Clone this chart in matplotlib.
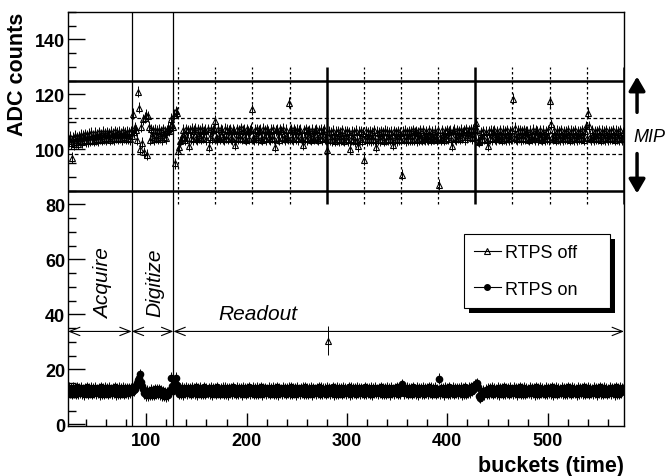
import numpy as np
import matplotlib.pyplot as plt
from matplotlib.lines import Line2D
from matplotlib.patches import Rectangle

plt.rcParams['font.family'] = ['Liberation Sans', 'DejaVu Sans']

# bucket number (time) of every readout sample
buckets = np.arange(23, 576)

# ADC counts with RTPS off (open triangles), one value per bucket
rtps_off = [
    103.0, 104.6, 102.2, 97.0, 104.3, 101.9, 105.0, 102.6, 104.4, 102.1,
    104.8, 103.2, 105.3, 102.7, 104.9, 103.5, 105.6, 103.0, 105.2, 102.9,
    105.7, 103.4, 106.1, 103.6, 104.9, 103.1, 106.0, 103.8, 105.4, 103.3,
    106.2, 103.9, 105.5, 103.5, 106.4, 104.0, 105.8, 103.7, 106.3, 104.2,
    105.9, 103.6, 106.5, 104.1, 105.7, 103.8, 106.6, 104.3, 106.0, 103.9,
    106.4, 104.2, 105.8, 103.7, 106.7, 104.4, 106.1, 103.9, 106.5, 104.0,
    106.2, 103.8, 106.6, 104.9, 113.0, 106.5, 108.0, 107.0, 103.6, 121.0,
    115.2, 100.0, 108.2, 102.4, 110.9, 99.0, 111.5, 112.7, 98.0, 112.0,
    108.3, 103.6, 107.4, 104.5, 106.9, 103.8, 107.1, 104.2, 106.8, 103.9,
    107.2, 104.4, 106.6, 103.7, 107.3, 104.6, 106.5, 104.0, 107.0, 107.9,
    106.8, 107.9, 111.2, 109.0, 108.0, 112.7, 95.0, 113.9, 113.4, 99.5,
    101.0, 103.0, 103.5, 104.3, 107.2, 104.6, 103.5, 107.4, 104.2, 106.9,
    101.4, 107.0, 104.1, 107.5, 103.8, 106.8, 107.6, 104.0, 103.7, 107.3,
    104.4, 106.9, 103.9, 107.6, 104.3, 106.6, 107.1, 103.8, 107.4, 100.9,
    104.5, 107.3, 103.9, 106.9, 107.7, 110.5, 104.2, 103.8, 107.5, 104.6,
    103.9, 107.3, 106.8, 104.1, 103.7, 107.6, 104.3, 107.1, 103.9, 106.9,
    107.4, 104.0, 103.8, 107.2, 106.7, 101.8, 104.3, 107.3, 103.9, 107.0,
    104.2, 107.7, 103.9, 106.8, 107.1, 104.0, 103.6, 107.4, 106.6, 103.9,
    106.9, 107.5, 114.6, 104.1, 103.7, 107.1, 104.5, 107.3, 103.8, 106.8,
    107.2, 103.9, 103.6, 107.5, 104.2, 107.0, 103.8, 107.3, 106.6, 104.0,
    103.7, 107.1, 104.3, 107.4, 103.9, 100.9, 106.9, 107.2, 104.1, 103.6,
    107.3, 106.7, 104.0, 107.5, 104.2, 103.8, 107.1, 104.5, 103.9, 117.0,
    107.0, 107.3, 104.0, 103.7, 107.4, 106.6, 104.0, 107.2, 103.8, 106.8,
    107.1, 104.2, 103.9, 101.8, 106.9, 104.1, 107.3, 103.7, 106.7, 107.0,
    104.0, 103.6, 107.2, 104.4, 103.9, 107.0, 107.4, 104.0, 103.5, 106.9,
    104.3, 107.1, 103.8, 106.6, 107.3, 104.0, 103.7, 99.7, 30.5, 106.4,
    103.5, 106.2, 103.4, 106.8, 103.9, 103.2, 106.5, 103.8, 106.7, 103.3,
    106.1, 103.5, 106.9, 103.7, 103.1, 106.4, 103.9, 106.6, 103.4, 106.2,
    100.2, 103.8, 106.5, 103.6, 106.3, 103.0, 106.8, 103.5, 101.1, 106.4,
    103.7, 106.6, 103.2, 106.1, 96.3, 103.9, 106.7, 103.4, 106.3, 103.8,
    106.5, 103.3, 106.2, 103.7, 106.9, 103.5, 100.9, 106.4, 103.6, 106.1,
    103.4, 106.7, 103.9, 106.3, 103.1, 106.8, 103.6, 106.5, 103.8, 106.2,
    103.5, 106.4, 103.9, 101.8, 106.7, 103.7, 106.3, 103.3, 106.6, 103.8,
    106.1, 103.6, 90.8, 106.5, 103.9, 106.8, 103.4, 106.2, 103.7, 106.6,
    103.8, 106.4, 103.5, 107.0, 103.7, 106.3, 106.7, 103.4, 106.1, 103.7,
    106.9, 104.0, 103.6, 106.9, 104.1, 103.7, 106.6, 104.0, 103.8, 107.0,
    104.3, 103.6, 106.7, 104.1, 103.9, 106.8, 104.2, 103.5, 106.9, 87.1,
    104.4, 103.8, 107.0, 104.2, 103.6, 106.7, 104.1, 106.9, 103.9, 106.4,
    106.8, 103.7, 101.4, 106.6, 107.1, 104.0, 103.8, 107.0, 104.3, 106.7,
    103.9, 107.2, 104.4, 106.2, 106.9, 103.7, 107.3, 104.5, 106.3, 107.0,
    104.6, 107.4, 104.0, 107.1, 104.7, 107.5, 109.7, 107.2, 103.2, 102.8,
    103.5, 106.3, 103.8, 106.7, 103.9, 106.4, 103.6, 101.4, 106.6, 104.0,
    106.8, 103.8, 106.5, 107.0, 104.1, 103.7, 106.7, 104.3, 103.9, 106.9,
    104.2, 103.6, 106.8, 104.0, 106.6, 103.8, 107.0, 104.3, 103.7, 106.7,
    104.1, 106.9, 118.4, 104.4, 107.9, 104.0, 103.8, 106.8, 104.2, 107.0,
    103.7, 106.6, 104.1, 106.9, 103.9, 106.5, 106.7, 104.0, 103.6, 106.8,
    104.3, 103.9, 107.1, 104.2, 103.7, 106.9, 106.6, 103.8, 104.4, 107.0,
    104.1, 103.6, 106.8, 104.3, 103.8, 106.7, 104.0, 107.0, 103.7, 117.6,
    109.1, 104.4, 103.9, 106.9, 104.2, 103.6, 106.8, 104.1, 106.6, 103.8,
    107.0, 104.3, 103.7, 106.7, 104.0, 106.5, 103.9, 106.9, 104.2, 103.6,
    106.8, 104.1, 106.6, 103.8, 107.0, 104.3, 103.7, 106.7, 104.0, 106.5,
    103.9, 106.9, 104.2, 103.6, 106.8, 108.5, 104.1, 113.3, 108.4, 104.4,
    103.8, 107.0, 104.3, 103.7, 106.7, 104.0, 106.6, 103.9, 106.9, 104.2,
    103.6, 106.8, 104.1, 106.5, 103.8, 107.0, 104.3, 103.7, 106.7, 104.0,
    106.6, 103.9, 106.9, 104.2, 103.6, 106.8, 104.1, 106.5, 103.8, 107.0,
    104.3, 103.7, 106.2,
]

# ADC counts with RTPS on (filled circles)
rtps_on = [
    13.4, 11.5, 13.0, 11.2, 13.3, 11.6, 12.9, 11.1, 13.5, 11.4,
    13.1, 11.7, 13.4, 11.3, 12.8, 11.0, 13.2, 11.6, 13.5, 11.2,
    12.9, 11.5, 13.3, 11.1, 13.0, 11.7, 13.4, 11.3, 12.8, 11.6,
    13.2, 11.0, 13.5, 11.4, 12.9, 11.2, 13.3, 11.7, 13.1, 11.1,
    13.4, 11.5, 12.8, 11.3, 13.2, 11.6, 13.5, 11.0, 12.9, 11.4,
    13.3, 11.2, 13.0, 11.7, 13.4, 11.1, 12.9, 11.5, 13.2, 11.3,
    13.1, 11.6, 12.9, 11.8, 13.0, 12.4, 13.0, 14.0, 15.2, 16.0,
    17.0, 18.2, 15.5, 14.0, 12.8, 11.4, 12.2, 10.6, 12.3, 10.5,
    12.1, 10.8, 12.6, 11.0, 12.4, 10.7, 12.8, 11.1, 12.5, 11.3,
    12.7, 10.9, 12.2, 10.6, 12.0, 10.4, 11.6, 10.2, 11.5, 10.5,
    11.6, 12.4, 17.0, 14.0, 12.2, 13.5, 15.0, 17.0, 14.2, 12.5,
    11.2, 13.1, 11.4, 13.3, 11.0, 12.9, 11.6, 13.4, 11.3, 13.0,
    11.5, 13.2, 11.1, 13.4, 11.7, 12.9, 11.3, 13.5, 11.0, 13.1,
    11.6, 13.3, 11.2, 12.8, 11.4, 13.5, 11.1, 13.0, 11.7, 13.2,
    11.3, 13.4, 11.0, 12.9, 11.6, 13.1, 11.2, 13.5, 11.5, 12.8,
    11.1, 13.0, 11.7, 13.3, 11.2, 13.4, 11.4, 12.9, 11.0, 13.2,
    11.5, 13.1, 11.3, 13.5, 11.6, 12.8, 11.1, 13.3, 11.4, 13.0,
    11.7, 13.2, 11.0, 13.4, 11.5, 12.9, 11.2, 13.1, 11.6, 13.5,
    11.3, 12.8, 11.7, 13.3, 11.1, 13.0, 11.4, 13.4, 11.2, 12.9,
    11.6, 13.5, 11.0, 13.1, 11.5, 13.2, 11.3, 12.8, 11.7, 13.4,
    11.2, 13.0, 11.6, 13.3, 11.1, 12.9, 11.4, 13.5, 11.0, 13.2,
    11.5, 12.8, 11.3, 13.4, 11.7, 13.1, 11.2, 13.0, 11.6, 13.3,
    11.4, 13.5, 11.1, 12.9, 11.5, 13.2, 11.0, 13.4, 11.7, 12.8,
    11.3, 13.1, 11.6, 13.3, 11.2, 13.5, 11.4, 12.9, 11.1, 13.0,
    11.7, 13.4, 11.0, 13.2, 11.5, 12.8, 11.3, 13.1, 11.6, 13.5,
    11.2, 13.3, 11.4, 12.9, 11.7, 13.0, 11.1, 13.4, 11.5, 13.2,
    11.3, 12.8, 11.6, 13.5, 11.0, 13.1, 11.4, 13.3, 11.2, 12.9,
    11.7, 13.2, 11.1, 13.4, 11.5, 13.0, 11.3, 12.8, 11.6, 13.5,
    11.0, 13.3, 11.4, 12.9, 11.7, 13.1, 11.2, 13.4, 11.5, 13.0,
    11.3, 13.2, 11.6, 12.8, 11.1, 13.5, 11.4, 13.1, 11.7, 12.9,
    11.2, 13.4, 11.0, 13.0, 11.5, 13.3, 11.6, 12.8, 11.3, 13.2,
    11.7, 13.5, 11.1, 12.9, 11.4, 13.1, 11.2, 13.4, 11.6, 13.0,
    11.0, 13.3, 11.5, 12.8, 11.3, 13.2, 11.7, 13.5, 11.1, 12.9,
    11.4, 13.6, 14.6, 13.2, 11.3, 13.0, 11.6, 13.4, 11.1, 12.9,
    11.7, 13.1, 11.2, 13.5, 11.5, 12.8, 11.4, 13.3, 11.0, 13.2,
    11.6, 13.0, 11.3, 13.4, 11.1, 12.9, 11.7, 13.1, 11.4, 13.5,
    11.5, 13.3, 11.2, 13.0, 11.6, 13.4, 11.1, 12.8, 11.7, 16.5,
    11.3, 13.2, 11.5, 12.9, 11.0, 13.4, 11.6, 13.1, 11.2, 13.5,
    11.4, 12.8, 11.7, 13.3, 11.1, 13.0, 11.5, 13.2, 11.3, 12.9,
    11.6, 13.4, 11.0, 13.1, 11.4, 13.5, 11.2, 12.8, 11.7, 13.3,
    11.6, 13.5, 12.2, 13.8, 13.0, 14.4, 14.6, 15.0, 13.6, 10.2,
    9.6, 11.0, 10.6, 12.2, 10.9, 12.6, 11.2, 12.9, 11.4, 13.1,
    11.5, 13.3, 11.1, 13.0, 11.6, 12.8, 11.3, 13.4, 11.0, 13.2,
    11.7, 12.9, 11.2, 13.5, 11.4, 13.1, 11.6, 13.0, 11.1, 13.3,
    11.5, 12.8, 11.3, 13.4, 11.7, 13.2, 11.0, 12.9, 11.6, 13.5,
    11.2, 13.1, 11.4, 13.3, 11.1, 13.0, 11.7, 12.8, 11.5, 13.4,
    11.3, 13.2, 11.6, 12.9, 11.0, 13.5, 11.4, 13.1, 11.2, 13.3,
    11.7, 13.0, 11.5, 12.8, 11.1, 13.4, 11.3, 13.2, 11.6, 12.9,
    11.4, 13.5, 11.0, 13.1, 11.7, 13.3, 11.2, 13.0, 11.5, 12.8,
    11.6, 13.4, 11.3, 13.2, 11.1, 12.9, 11.4, 13.5, 11.7, 13.1,
    11.2, 13.3, 11.5, 13.0, 11.6, 12.8, 11.0, 13.4, 11.3, 13.2,
    11.7, 12.9, 11.4, 13.5, 11.1, 13.1, 11.6, 13.3, 11.2, 13.0,
    11.5, 12.8, 11.3, 13.4, 11.7, 13.2, 11.0, 12.9, 11.6, 13.5,
    11.4, 13.1, 11.2, 13.3, 11.5, 13.0, 11.1, 12.8, 11.7, 13.4,
    11.3, 13.2, 11.6, 12.9, 11.0, 13.5, 11.4, 13.1, 11.2, 13.3,
    11.7, 13.0, 12.6,
]

off_err = np.full(len(buckets), 2.0)
off_err[buckets == 281] = 5.3   # the stray sample near 30 counts
on_err = 2.0

# phases of the cycle
x_lo, x_hi = 22, 576
acquire_end = 85.5
digitize_end = 127
arrow_y = 33.8

# MIP window and readout grid
mip_lo, mip_hi = 85, 125
mip_band = [98.5, 111.5]
grid_dashed = [131.8, 168.8, 205.8, 242.8, 316.8, 353.8, 390.8, 464.8, 501.8, 538.8]
grid_thick = [279.8, 427.8, 575.8]
grid_span = (80, 130)

fig = plt.figure(figsize=(6.66, 4.77), dpi=100)
ax = fig.add_axes([68 / 666, 1 - 427 / 477, 556 / 666, 414 / 477])

ax.errorbar(buckets, rtps_off, yerr=off_err, fmt='^', ms=5, mfc='none', mec='black',
            mew=0.8, ecolor='black', elinewidth=0.7, capsize=0, zorder=3)
ax.errorbar(buckets, rtps_on, yerr=on_err, fmt='o', ms=4.5, mfc='black', mec='black',
            ecolor='black', elinewidth=0.7, capsize=0, zorder=3)

# phase boundaries
for xv in (acquire_end, digitize_end):
    ax.axvline(xv, color='black', lw=0.9, zorder=2)

# MIP window
for yv in (mip_lo, mip_hi):
    ax.axhline(yv, color='black', lw=1.8, zorder=2)
for yv in mip_band:
    ax.axhline(yv, color='black', lw=0.9, ls=(0, (3, 2)), zorder=2)
ax.vlines(grid_dashed, *grid_span, colors='black', lw=0.9, linestyles=(0, (2, 2)), zorder=2)
ax.vlines(grid_thick, *grid_span, colors='black', lw=1.8, zorder=2)

# phase arrows
for a, b in [(x_lo, acquire_end), (acquire_end, digitize_end), (digitize_end, x_hi)]:
    ax.annotate('', xy=(b, arrow_y), xytext=(a, arrow_y),
                arrowprops=dict(arrowstyle='<->,head_length=0.75,head_width=0.3',
                                lw=0.8, color='black', shrinkA=0, shrinkB=0))
ax.text(57, 51.7, 'Acquire', rotation=90, style='italic', fontsize=15,
        ha='center', va='center')
ax.text(108.5, 51.7, 'Digitize', rotation=90, style='italic', fontsize=15,
        ha='center', va='center')
ax.text(211, 40.4, 'Readout', style='italic', fontsize=15, ha='center', va='center')

# MIP label outside the frame
ax.annotate('', xy=(589, 126.5), xytext=(589, 113.5), annotation_clip=False,
            arrowprops=dict(arrowstyle='-|>,head_length=0.6,head_width=0.35',
                            lw=2.5, color='black', shrinkA=0, shrinkB=0, mutation_scale=14))
ax.annotate('', xy=(589, 84.0), xytext=(589, 98.5), annotation_clip=False,
            arrowprops=dict(arrowstyle='-|>,head_length=0.6,head_width=0.35',
                            lw=2.5, color='black', shrinkA=0, shrinkB=0, mutation_scale=14))
ax.text(601, 104.8, 'MIP', style='italic', fontsize=13, ha='center', va='center',
        clip_on=False)

ax.set_xlim(x_lo, x_hi)
ax.set_ylim(-0.6, 150)
ax.set_xticks([100, 200, 300, 400, 500])
ax.set_xticks(np.arange(40, 576, 20), minor=True)
ax.set_yticks(np.arange(0, 141, 20))
ax.set_yticks(np.arange(0, 151, 5), minor=True)
ax.tick_params(axis='both', which='both', direction='in', top=False, right=False)
ax.tick_params(axis='y', which='major', length=12, width=1, pad=2)
ax.tick_params(axis='y', which='minor', length=6, width=1)
ax.tick_params(axis='x', which='major', length=9.5, width=1, pad=4)
ax.tick_params(axis='x', which='minor', length=5, width=1)
for lab in ax.get_xticklabels() + ax.get_yticklabels():
    lab.set_fontsize(13)
    lab.set_fontweight('bold')
for sp in ax.spines.values():
    sp.set_linewidth(1)

ax.set_xlabel('buckets (time)', fontsize=15.5, fontweight='bold', loc='right', labelpad=5)
ax.set_ylabel('ADC counts', fontsize=15.5, fontweight='bold', loc='top', labelpad=5)

handles = [
    Line2D([0], [0], color='black', lw=0.8, marker='^', ms=4, mfc='none', mew=0.8),
    Line2D([0], [0], color='black', lw=0.8, marker='o', ms=4, mfc='black'),
]
leg = ax.legend(handles, ['RTPS off', 'RTPS on'], loc='upper left',
                bbox_to_anchor=(0.712, 0.29, 0.263, 0.174), mode='expand',
                fontsize=13, frameon=True, fancybox=False, framealpha=1,
                edgecolor='black', handlelength=1.5, handletextpad=0.25,
                borderpad=0.55, labelspacing=1.1, borderaxespad=0)
leg.get_frame().set_linewidth(0.8)
leg.set_zorder(10)

# solid drop shadow like the ROOT legend box, drawn just under the legend
fig.canvas.draw()
bb = leg.get_window_extent().transformed(ax.transAxes.inverted())
dx, dy = 5 / 556, 5 / 414
ax.add_patch(Rectangle((bb.x0 + dx, bb.y0 - dy), bb.width, bb.height,
                       transform=ax.transAxes, facecolor='black',
                       edgecolor='none', zorder=9, clip_on=False))

fig.savefig('out.png', dpi=100)
